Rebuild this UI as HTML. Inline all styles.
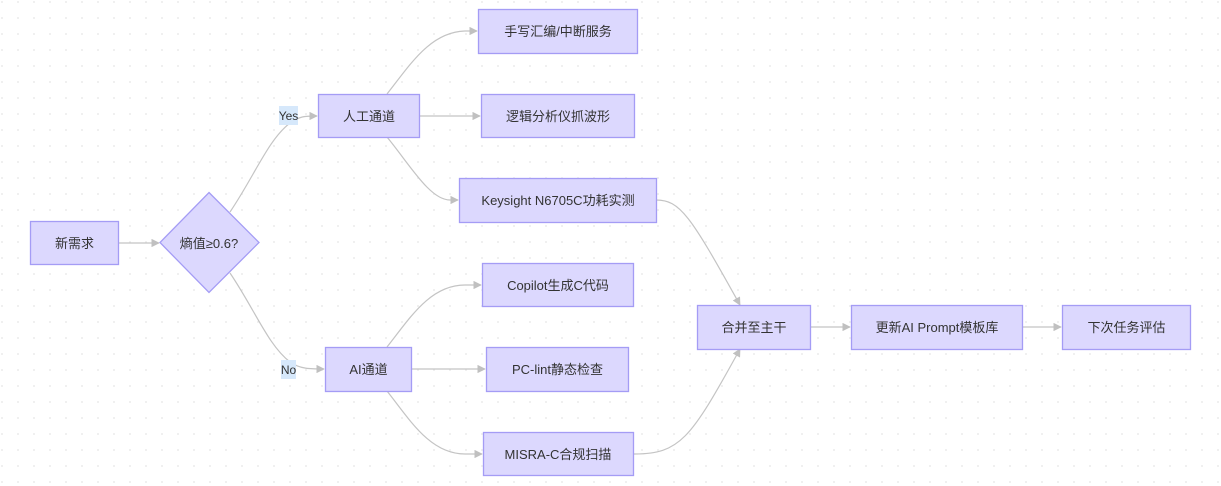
<!DOCTYPE html>
<html><head><meta charset="utf-8"><style>
html,body{margin:0;padding:0;background:#fff;}
svg{display:block;}
text{font-family:"Liberation Sans","Noto Sans CJK SC",sans-serif;font-size:13px;fill:#333;}
.n{fill:#dcd8fe;stroke:#a49cf5;stroke-width:1.3;}
.e{fill:none;stroke:#c4c4c4;stroke-width:1.2;}
</style></head><body>
<svg width="1221" height="486" viewBox="0 0 1221 486" xmlns="http://www.w3.org/2000/svg">
<defs>
<pattern id="dots" width="16" height="16" patternUnits="userSpaceOnUse"><circle cx="2" cy="2" r="0.9" fill="#e6e6e6"/></pattern>
<marker id="a" viewBox="0 0 10 10" refX="9" refY="5" markerWidth="7" markerHeight="7" orient="auto"><path d="M0,0L10,5L0,10z" fill="#c0c0c0"/></marker>
</defs>
<rect width="1221" height="486" fill="url(#dots)"/>
<!-- edges -->
<path class="e" d="M119,243 L159,243" marker-end="url(#a)"/>
<path class="e" d="M230,212 C255,175 268,140 290,123 C300,116 305,116 317,116" marker-end="url(#a)"/>
<path class="e" d="M230,273 C255,310 268,345 290,362 C300,369 310,369 324,369" marker-end="url(#a)"/>
<path class="e" d="M387,94 C410,65 430,32 465,31 L477,31" marker-end="url(#a)"/>
<path class="e" d="M419,116 L480,116" marker-end="url(#a)"/>
<path class="e" d="M387,137 C410,165 430,200 450,200 L458,200" marker-end="url(#a)"/>
<path class="e" d="M387,347 C410,318 430,285 465,285 L481,285" marker-end="url(#a)"/>
<path class="e" d="M411,369 L485,369" marker-end="url(#a)"/>
<path class="e" d="M387,391 C410,420 430,454 465,454 L482,454" marker-end="url(#a)"/>
<path class="e" d="M656,200 C680,200 690,215 740,305" marker-end="url(#a)"/>
<path class="e" d="M633,454 C680,454 690,440 740,349" marker-end="url(#a)"/>
<path class="e" d="M810,327 L850,327" marker-end="url(#a)"/>
<path class="e" d="M1022,327 L1061,327" marker-end="url(#a)"/>
<!-- labels -->
<rect x="279" y="106" width="19" height="19" fill="#d6e8fb"/><text x="288.5" y="120" text-anchor="middle" style="font-size:12px">Yes</text>
<rect x="281" y="360" width="15" height="19" fill="#d6e8fb"/><text x="288.5" y="374" text-anchor="middle" style="font-size:12px">No</text>
<!-- nodes -->
<rect class="n" x="30.5" y="221.5" width="88" height="43"/><text x="74.5" y="248" text-anchor="middle">新需求</text>
<polygon class="n" points="209,192.5 259,242.5 209,292.5 160,242.5"/><text x="209" y="248" text-anchor="middle">熵值≥0.6?</text>
<rect class="n" x="318.5" y="94.5" width="101" height="43"/><text x="369" y="121" text-anchor="middle">人工通道</text>
<rect class="n" x="325.5" y="347.5" width="86" height="44"/><text x="368.5" y="374" text-anchor="middle">AI通道</text>
<rect class="n" x="478.5" y="9.5" width="159" height="44"/><text x="558" y="36" text-anchor="middle">手写汇编/中断服务</text>
<rect class="n" x="481.5" y="94.5" width="153" height="43"/><text x="558" y="121" text-anchor="middle">逻辑分析仪抓波形</text>
<rect class="n" x="459.5" y="178.5" width="197" height="44"/><text x="558" y="205" text-anchor="middle">Keysight N6705C功耗实测</text>
<rect class="n" x="482.5" y="263.5" width="151" height="43"/><text x="558" y="290" text-anchor="middle">Copilot生成C代码</text>
<rect class="n" x="486.5" y="347.5" width="142" height="44"/><text x="557.5" y="374" text-anchor="middle">PC-lint静态检查</text>
<rect class="n" x="483.5" y="432.5" width="150" height="43"/><text x="558" y="459" text-anchor="middle">MISRA-C合规扫描</text>
<rect class="n" x="697.5" y="305.5" width="113" height="44"/><text x="754" y="332" text-anchor="middle">合并至主干</text>
<rect class="n" x="851.5" y="305.5" width="171" height="44"/><text x="937" y="332" text-anchor="middle">更新AI Prompt模板库</text>
<rect class="n" x="1062.5" y="305.5" width="128" height="44"/><text x="1126.5" y="332" text-anchor="middle">下次任务评估</text>
</svg>
</body></html>
